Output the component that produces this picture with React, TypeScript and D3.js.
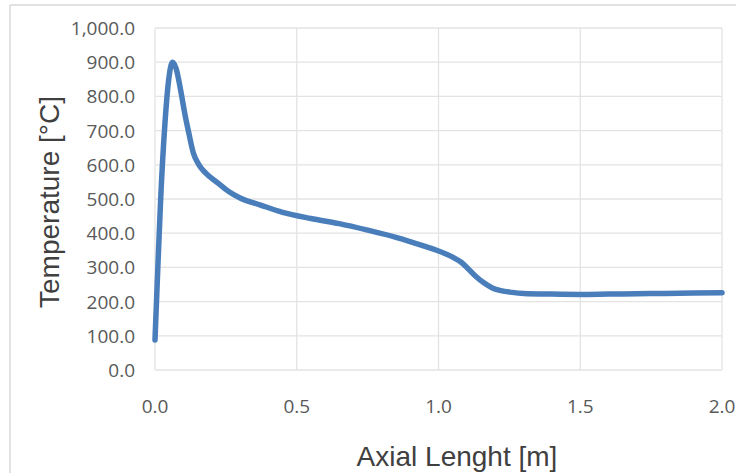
import React from "react";
import * as d3 from "d3";

const axialLength = [0, 0.01, 0.02, 0.035, 0.05, 0.062, 0.075, 0.09, 0.105, 0.12, 0.135, 0.155, 0.18, 0.22, 0.26, 0.3, 0.37, 0.45, 0.55, 0.65, 0.75, 0.85, 0.95, 1.0, 1.05, 1.08, 1.1, 1.13, 1.16, 1.19, 1.22, 1.26, 1.3, 1.4, 1.5, 1.6, 1.7, 1.8, 1.9, 2.0];
const temperature = [88, 300, 500, 720, 860, 900, 880, 820, 750, 690, 635, 600, 575, 548, 522, 503, 483, 461, 443, 428, 409, 388, 362, 348, 330, 315, 300, 275, 255, 240, 232, 227, 224, 222, 221, 222, 223, 224, 225, 226];
const xTicks = [0, 0.5, 1.0, 1.5, 2.0];
const yTicks = [0, 100, 200, 300, 400, 500, 600, 700, 800, 900, 1000];
const xTitle = "Axial Lenght [m]";
const yTitle = "Temperature [°C]";

const W = 745;
const H = 473;

export default function App() {
  const x = d3.scaleLinear().domain([0, 2]).range([155, 722]);
  const y = d3.scaleLinear().domain([0, 1000]).range([370, 28]);
  const pts: [number, number][] = axialLength.map((v, i) => [v, temperature[i]]);
  const line = d3
    .line<[number, number]>()
    .x((d) => x(d[0]))
    .y((d) => y(d[1]))
    .curve(d3.curveMonotoneX);
  const fmtY = d3.format(",.1f");
  const fmtX = d3.format(".1f");
  const grid = "#e3e3e3";
  const tickColor = "#595959";
  return (
    <svg
      width={W}
      height={H}
      style={{ position: "absolute", left: 0, top: 0, background: "#fff" }}
    >
      <line x1={10} y1={5} x2={736} y2={5} stroke="#d9d9d9" strokeWidth={1.5} />
      <line x1={10} y1={5} x2={10} y2={H} stroke="#d9d9d9" strokeWidth={1.5} />
      {yTicks.map((t) => (
        <line key={"gy" + t} x1={x(0)} x2={x(2)} y1={y(t)} y2={y(t)} stroke={grid} strokeWidth={1.3} />
      ))}
      {xTicks.map((t) => (
        <line key={"gx" + t} x1={x(t)} x2={x(t)} y1={y(0)} y2={y(1000)} stroke={grid} strokeWidth={1.3} />
      ))}
      {yTicks.map((t) => (
        <text
          key={"ty" + t}
          x={135}
          y={y(t)}
          textAnchor="end"
          dominantBaseline="central"
          fontFamily="'Open Sans', sans-serif"
          fontSize={19}
          fill={tickColor}
        >
          {fmtY(t)}
        </text>
      ))}
      {xTicks.map((t) => (
        <text
          key={"tx" + t}
          x={x(t)}
          y={406}
          textAnchor="middle"
          dominantBaseline="central"
          fontFamily="'Open Sans', sans-serif"
          fontSize={19}
          fill={tickColor}
        >
          {fmtX(t)}
        </text>
      ))}
      <path d={line(pts) || ""} fill="none" stroke="#4a7ebb" strokeWidth={5.5} strokeLinejoin="round" strokeLinecap="round" />
      <text
        x={457}
        y={456}
        textAnchor="middle"
        dominantBaseline="central"
        fontFamily="'Liberation Sans', Arial, sans-serif"
        fontSize={28}
        fill="#404040"
      >
        {xTitle}
      </text>
      <text
        transform={`translate(49,202) rotate(-90)`}
        textAnchor="middle"
        dominantBaseline="central"
        fontFamily="'Liberation Sans', Arial, sans-serif"
        fontSize={28}
        fill="#404040"
      >
        {yTitle}
      </text>
    </svg>
  );
}
